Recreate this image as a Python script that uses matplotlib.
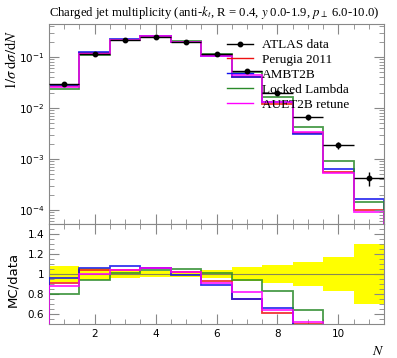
import matplotlib
matplotlib.use("Agg")
import matplotlib.pyplot as plt
from matplotlib.lines import Line2D
import numpy as np

# ---------------------------------------------------
# values (bins N = 1..11)
# ---------------------------------------------------
n_bins = [1, 2, 3, 4, 5, 6, 7, 8, 9, 10, 11]
data = [0.0296, 0.116, 0.211, 0.241, 0.195, 0.116, 0.054, 0.020, 0.0065, 0.00186, 0.00043]
data_err = [0.0024, 0.0064, 0.0074, 0.0072, 0.0059, 0.0046, 0.0036, 0.0018, 0.00078, 0.00032, 0.00013]

perugia = [0.0270, 0.1206, 0.2184, 0.2543, 0.1989, 0.1074, 0.0403, 0.0122, 0.00325, 0.00056, 0.000100]
ambt2b = [0.0283, 0.1231, 0.2281, 0.2550, 0.1931, 0.1032, 0.0403, 0.0132, 0.00306, 0.00064, 0.000162]
locked = [0.0237, 0.1090, 0.2125, 0.2506, 0.2042, 0.1168, 0.0505, 0.0167, 0.00416, 0.00091, 0.000141]
auet2b = [0.0260, 0.1160, 0.2188, 0.2557, 0.1997, 0.1061, 0.0443, 0.0128, 0.00340, 0.00054, 0.000091]

mc_names = ["Perugia 2011", "AMBT2B", "Locked Lambda", "AUET2B retune"]
mc_colors = ["#ee1111", "#1111ee", "#2a8a2a", "#ff00ff"]

plt.rcParams['mathtext.fontset'] = 'stix'
serif = 'Liberation Serif'

x = np.array(n_bins, dtype=float)
edges = np.append(x - 0.5, x[-1] + 0.5)
d = np.array(data)
derr = np.array(data_err)

fig = plt.figure(figsize=(3.97, 3.58), dpi=100)
ax = fig.add_axes([49/397, 1 - 224/358, 335/397, 200/358])
axr = fig.add_axes([49/397, 1 - 324/358, 335/397, 100/358], sharex=ax)

# main panel
for vals, col in zip([perugia, ambt2b, locked, auet2b], mc_colors):
    ax.stairs(np.array(vals), edges, color=col, lw=1.3, alpha=0.85)

ax.errorbar(x, d, yerr=derr, xerr=0.5, fmt='o', color='black', ms=3.2,
            elinewidth=1.0, capsize=0, zorder=5)

ax.set_yscale('log')
ax.set_ylim(5.3e-5, 0.443)
ax.set_xlim(0.5, 11.5)
ax.set_title(r"Charged jet multiplicity (anti-$k_t$, R = 0.4, $y$ 0.0-1.9, $p_\perp$ 6.0-10.0)",
             loc='left', fontsize=9.2, family=serif, pad=6)
ax.set_ylabel(r"$1/\sigma\;\mathrm{d}\sigma/\mathrm{d}N$", loc='top', fontsize=10.5)
ax.yaxis.set_label_coords(-0.09, 0.97)

leg_handles = [Line2D([], [], color='black', marker='o', ms=3.2, lw=1.0)]
leg_handles += [Line2D([], [], color=c, lw=1.0) for c in mc_colors]
leg_labels = ["ATLAS data"] + mc_names
ax.legend(leg_handles, leg_labels, loc='upper left', bbox_to_anchor=(0.53, 0.925),
          frameon=False, prop={'family': serif, 'size': 9.5}, handlelength=2.0,
          handletextpad=0.7, labelspacing=0.2, borderpad=0, borderaxespad=0)

# ratio panel
ratio_hi = np.append(1 + derr / d, 1 + derr[-1] / d[-1])
ratio_lo = np.append(1 - derr / d, 1 - derr[-1] / d[-1])
axr.fill_between(edges, ratio_lo, ratio_hi, step='post', color='#ffff00', lw=0, zorder=1)
axr.axhline(1.0, color='#888855', lw=0.8, zorder=2)
for vals, col in zip([perugia, ambt2b, locked, auet2b], mc_colors):
    r = np.array(vals) / d
    axr.stairs(r, edges, color=col, lw=1.3, alpha=0.85, zorder=3)
axr.set_ylim(0.5, 1.5)
axr.set_yticks([0.6, 0.8, 1.0, 1.2, 1.4])
axr.set_yticklabels(["0.6", "0.8", "1", "1.2", "1.4"])
axr.set_ylabel("MC/data", fontsize=9.5)
axr.yaxis.set_label_coords(-0.09, 0.45)
axr.set_xlabel(r"$N$", loc='right', fontsize=10)
axr.set_xticks([2, 4, 6, 8, 10])
axr.set_xticks(np.arange(0.5, 11.6, 0.5), minor=True)
axr.yaxis.set_minor_locator(matplotlib.ticker.MultipleLocator(0.05))

for a in (ax, axr):
    a.tick_params(which='both', direction='in', top=True, right=True, color='#888888',
                  labelsize=7.5)
    a.tick_params(which='major', length=7)
    a.tick_params(which='minor', length=3.5)
    for s in a.spines.values():
        s.set_color('#888888')
plt.setp(ax.get_xticklabels(), visible=False)

fig.savefig('out.png', dpi=100)
